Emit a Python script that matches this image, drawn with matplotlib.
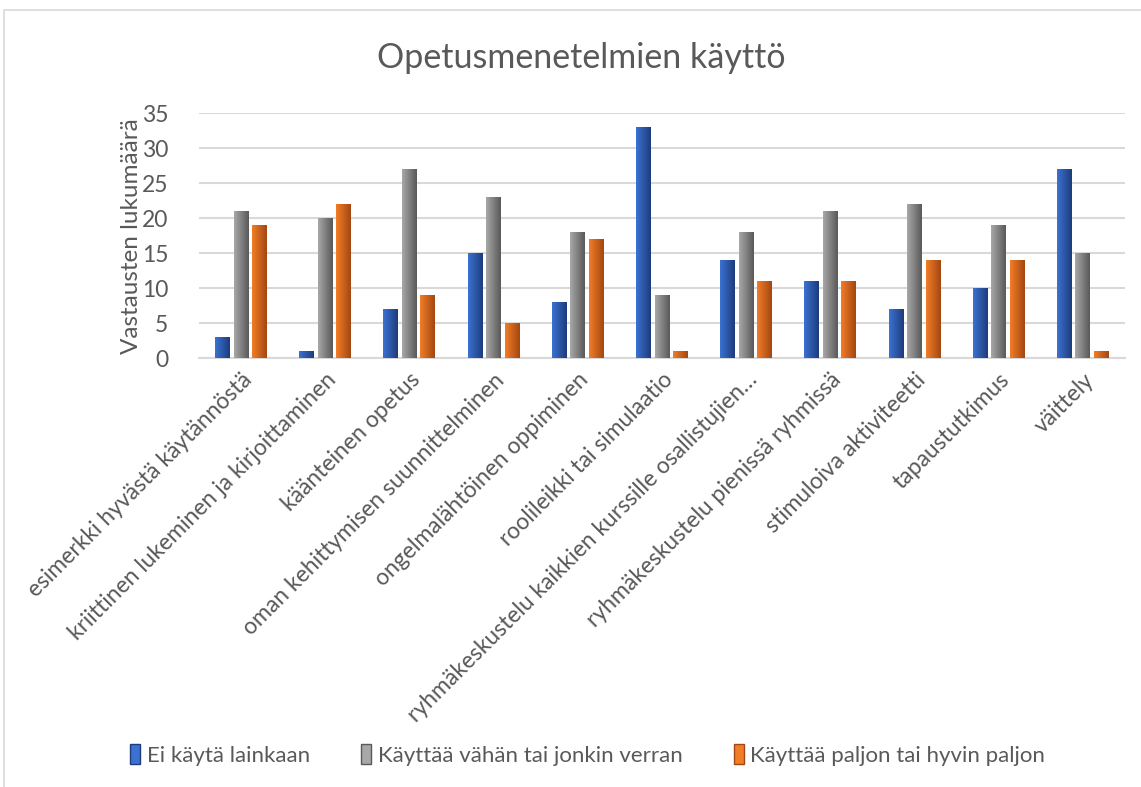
import numpy as np
import matplotlib
matplotlib.use('Agg')
import matplotlib.pyplot as plt
from matplotlib.colors import LinearSegmentedColormap
from matplotlib.patches import Rectangle, Patch

plt.rcParams['font.family'] = ['Lato', 'DejaVu Sans']

categories = [
    "esimerkki hyvästä käytännöstä",
    "kriittinen lukeminen ja kirjoittaminen",
    "käänteinen opetus",
    "oman kehittymisen suunnittelminen",
    "ongelmalähtöinen oppiminen",
    "roolileikki tai simulaatio",
    "ryhmäkeskustelu kaikkien kurssille osallistujien…",
    "ryhmäkeskustelu pienissä ryhmissä",
    "stimuloiva aktiviteetti",
    "tapaustutkimus",
    "väittely",
]
series_names = [
    "Ei käytä lainkaan",
    "Käyttää vähän tai jonkin verran",
    "Käyttää paljon tai hyvin paljon",
]
ei_kayta = [3, 1, 7, 15, 8, 33, 14, 11, 7, 10, 27]
vahan = [21, 20, 27, 23, 18, 9, 18, 21, 22, 19, 15]
paljon = [19, 22, 9, 5, 17, 1, 11, 11, 14, 14, 1]
yticks = [0, 5, 10, 15, 20, 25, 30, 35]

# light -> dark horizontal gradients, Excel style
gradients = [
    ("#3b72d2", "#1e3c7c"),
    ("#a8a8a8", "#595959"),
    ("#f27d27", "#a44712"),
]
text_col = "#595959"

fig = plt.figure(figsize=(11.41, 7.87), dpi=100)
ax = fig.add_axes([0.1744, 0.545, 0.8116, 0.311])

x = np.arange(len(categories))
width = 0.178
step = 0.22
grad = np.linspace(0, 1, 64).reshape(1, -1)
for i, (vals, (c0, c1)) in enumerate(zip([ei_kayta, vahan, paljon], gradients)):
    bars = ax.bar(x + (i - 1) * step, vals, width, color='none', zorder=3)
    cmap = LinearSegmentedColormap.from_list("g%d" % i, [c0, c1])
    for b in bars:
        x0, y0 = b.get_x(), b.get_y()
        ax.imshow(grad, extent=[x0, x0 + b.get_width(), y0, y0 + b.get_height()],
                  cmap=cmap, aspect='auto', zorder=3, interpolation='bilinear')

ax.set_xlim(-0.5, len(categories) - 0.5)
ax.set_ylim(0, 35)
ax.set_yticks(yticks)
ax.yaxis.grid(True, color="#d9d9d9", linewidth=1.5, zorder=0)
ax.set_axisbelow(True)
for s in ['top', 'right', 'left']:
    ax.spines[s].set_visible(False)
ax.spines['bottom'].set_color("#d9d9d9")
ax.spines['bottom'].set_linewidth(1.5)
ax.tick_params(axis='both', length=0, labelsize=16.5, colors=text_col)
ax.tick_params(axis='y', pad=22)
ax.set_xticks(x)
ax.set_xticklabels(categories, rotation=45, ha='right', rotation_mode='anchor')
ax.tick_params(axis='x', pad=8)
ax.set_ylabel("Vastausten lukumäärä", fontsize=17.5, color=text_col, labelpad=0)

fig.text(0.509, 0.926, "Opetusmenetelmien käyttö", ha='center', va='center',
         fontsize=24.5, color=text_col)

handles = [Patch(facecolor=c0, edgecolor=c1) for c0, c1 in gradients]
fig.legend(handles, series_names, loc='center', bbox_to_anchor=(0.515, 0.041),
           ncol=3, frameon=False, fontsize=16, handlelength=0.45, handleheight=1.0,
           handletextpad=0.3, columnspacing=2.3, labelcolor=text_col)

# chart frame
fig.patches.append(Rectangle((4 / 1141, -0.01), 1.2, 1 - 10 / 787 + 0.01,
                             transform=fig.transFigure, fill=False,
                             edgecolor="#d9d9d9", linewidth=1.2))

fig.savefig("out.png", dpi=100)
